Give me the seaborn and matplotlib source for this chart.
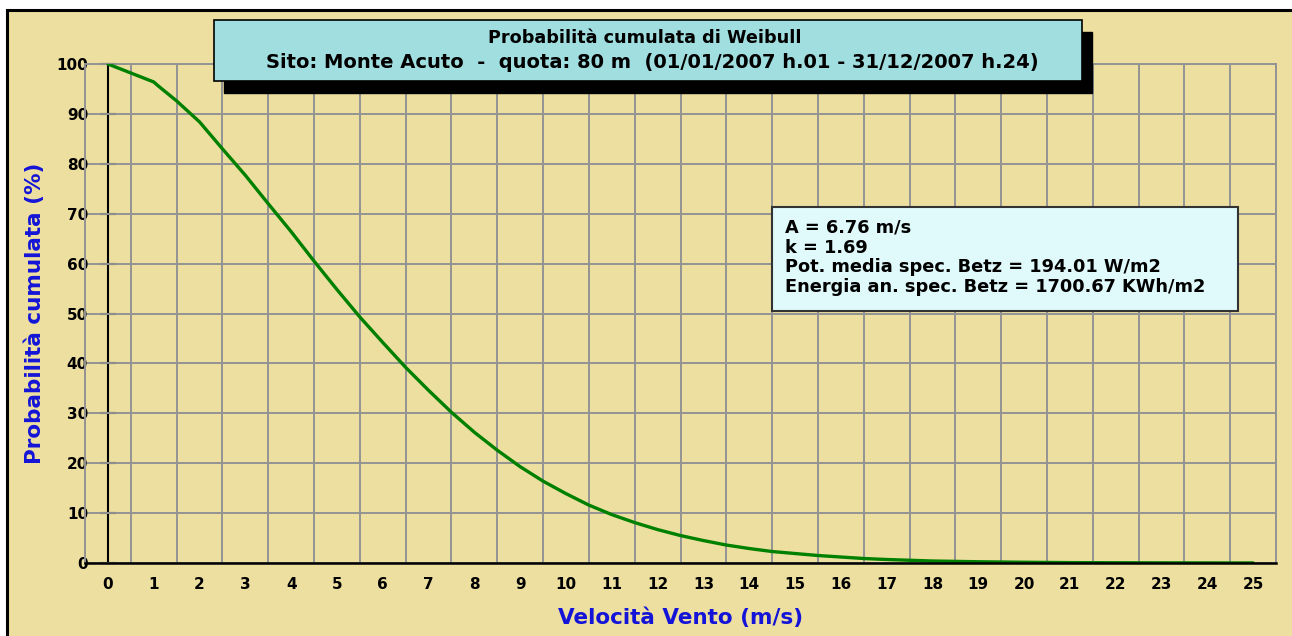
import numpy as np
import pandas as pd
import matplotlib
matplotlib.use("Agg")
import matplotlib.pyplot as plt
import seaborn as sns
from matplotlib.patches import Rectangle
from matplotlib.ticker import FixedLocator

# ---------------- data ----------------
velocita = [0, 0.5, 1, 1.1, 1.5, 2, 2.5, 3, 3.5, 4, 4.5, 5, 5.5, 6, 6.5, 7, 7.5, 8, 8.5,
            9, 9.5, 10, 10.5, 11, 11.5, 12, 12.5, 13, 13.5, 14, 14.5, 15, 15.5, 16,
            16.5, 17, 17.5, 18, 19, 20, 21, 22, 23, 24, 25]
probabilita = [100, 98.2, 96.4, 95.6, 92.6, 88.4, 83.0, 77.7, 72.0, 66.4, 60.5, 54.8, 49.3,
               44.2, 39.2, 34.6, 30.2, 26.2, 22.6, 19.3, 16.4, 13.9, 11.6, 9.7, 8.1,
               6.7, 5.5, 4.5, 3.6, 2.9, 2.3, 1.9, 1.5, 1.2, 0.9, 0.7, 0.55, 0.4, 0.25,
               0.15, 0.08, 0.05, 0.03, 0.02, 0.01]
x_ticks = list(range(0, 26))
y_ticks = list(range(0, 101, 10))
title_line1 = "Probabilità cumulata di Weibull"
title_line2 = "Sito: Monte Acuto  -  quota: 80 m  (01/01/2007 h.01 - 31/12/2007 h.24)"
info_lines = ["A = 6.76 m/s",
              "k = 1.69",
              "Pot. media spec. Betz = 194.01 W/m2",
              "Energia an. spec. Betz = 1700.67 KWh/m2"]
x_label = "Velocità Vento (m/s)"
y_label = "Probabilità cumulata (%)"

# ---------------- style ----------------
sns.set_style("white")
plt.rcParams["font.family"] = ["DejaVu Sans"]
plt.rcParams["font.weight"] = "bold"

BG = "#EDDFA0"
GRID = "#939393"
GREEN = "#008000"
BLUE = "#1414D8"

W, H = 1292, 636
fig = plt.figure(figsize=(W / 100, H / 100), dpi=100, facecolor="white")


def fx(px):
    return px / W


def fy(py):
    return 1 - py / H


# background panel with black top/left border
fig.patches.append(Rectangle((fx(7), -0.1), 1.2, fy(10) + 0.1, transform=fig.transFigure,
                             facecolor=BG, edgecolor="black", lw=2.2, zorder=-10))

ax = fig.add_axes([fx(85), fy(563), (1276 - 85) / W, (563 - 64) / H])
ax.set_facecolor(BG)

df = pd.DataFrame({"v": velocita, "p": probabilita})
sns.lineplot(data=df, x="v", y="p", ax=ax, color=GREEN, lw=2.4, zorder=5)

ax.set_xlim(-0.5, 25.5)
ax.set_ylim(0, 100)

ax.set_xticks(x_ticks)
ax.set_xticklabels([str(t) for t in x_ticks])
ax.xaxis.set_minor_locator(FixedLocator(np.arange(-0.5, 26, 1)))
ax.tick_params(axis="x", which="major", length=0, pad=10, labelsize=11, labelcolor="black")
ax.tick_params(axis="x", which="minor", length=15, width=1.5, color="black", direction="out")

ax.set_yticks(y_ticks)
ax.set_yticklabels([str(t) for t in y_ticks])
ax.tick_params(axis="y", which="major", length=0, pad=-2.2, labelsize=11, labelcolor="black")

ax.grid(False)
ax.grid(True, which="minor", axis="x", color=GRID, lw=1.4)
ax.grid(True, which="major", axis="y", color=GRID, lw=1.4)
ax.set_axisbelow(True)

for side in ["left", "top", "right"]:
    ax.spines[side].set_color(GRID)
    ax.spines[side].set_linewidth(1.4)
ax.spines["bottom"].set_color("black")
ax.spines["bottom"].set_linewidth(1.8)
ax.spines["bottom"].set_zorder(6)

# black y axis line at v = 0
sec = ax.secondary_yaxis(0.5 / 26)
sec.spines["left"].set_color("black")
sec.spines["left"].set_linewidth(1.5)
sec.set_yticks(y_ticks)
sec.tick_params(axis="y", direction="inout", length=12, width=1.5, color="black",
                labelleft=False)

ax.set_xlabel(x_label, color=BLUE, fontsize=15.5, fontweight="bold")
ax.set_ylabel(y_label, color=BLUE, fontsize=15.5, fontweight="bold")
ax.xaxis.set_label_coords(0.5, (563 - 618) / 499)
ax.yaxis.set_label_coords((35 - 85) / 1191, 0.5)
ax.xaxis.label.set_verticalalignment("center")
ax.yaxis.label.set_verticalalignment("center")

# title box with shadow
fig.patches.append(Rectangle((fx(224), fy(93)), (1092 - 224) / W, (93 - 32) / H,
                             transform=fig.transFigure, facecolor="black",
                             edgecolor="black", zorder=10))
fig.patches.append(Rectangle((fx(214), fy(81)), (1082 - 214) / W, (81 - 20) / H,
                             transform=fig.transFigure, facecolor="#A0DEE0",
                             edgecolor="black", lw=1.2, zorder=11))
fig.text(fx(645), fy(38), title_line1, ha="center", va="center", fontsize=12.7,
         fontweight="bold", color="black", zorder=12)
fig.text(fx(652), fy(62), title_line2, ha="center", va="center", fontsize=14,
         fontweight="bold", color="black", zorder=12)

# info box
fig.patches.append(Rectangle((fx(772), fy(311)), (1238 - 772) / W, (311 - 207) / H,
                             transform=fig.transFigure, facecolor="#E0FAFC",
                             edgecolor="#333333", lw=1.5, zorder=11))
for i, line in enumerate(info_lines):
    fig.text(fx(785), fy(228 + 19.7 * i), line, ha="left", va="center", fontsize=12.8,
             fontweight="bold", color="black", zorder=12)

fig.savefig("out.png", dpi=100, facecolor="white")
